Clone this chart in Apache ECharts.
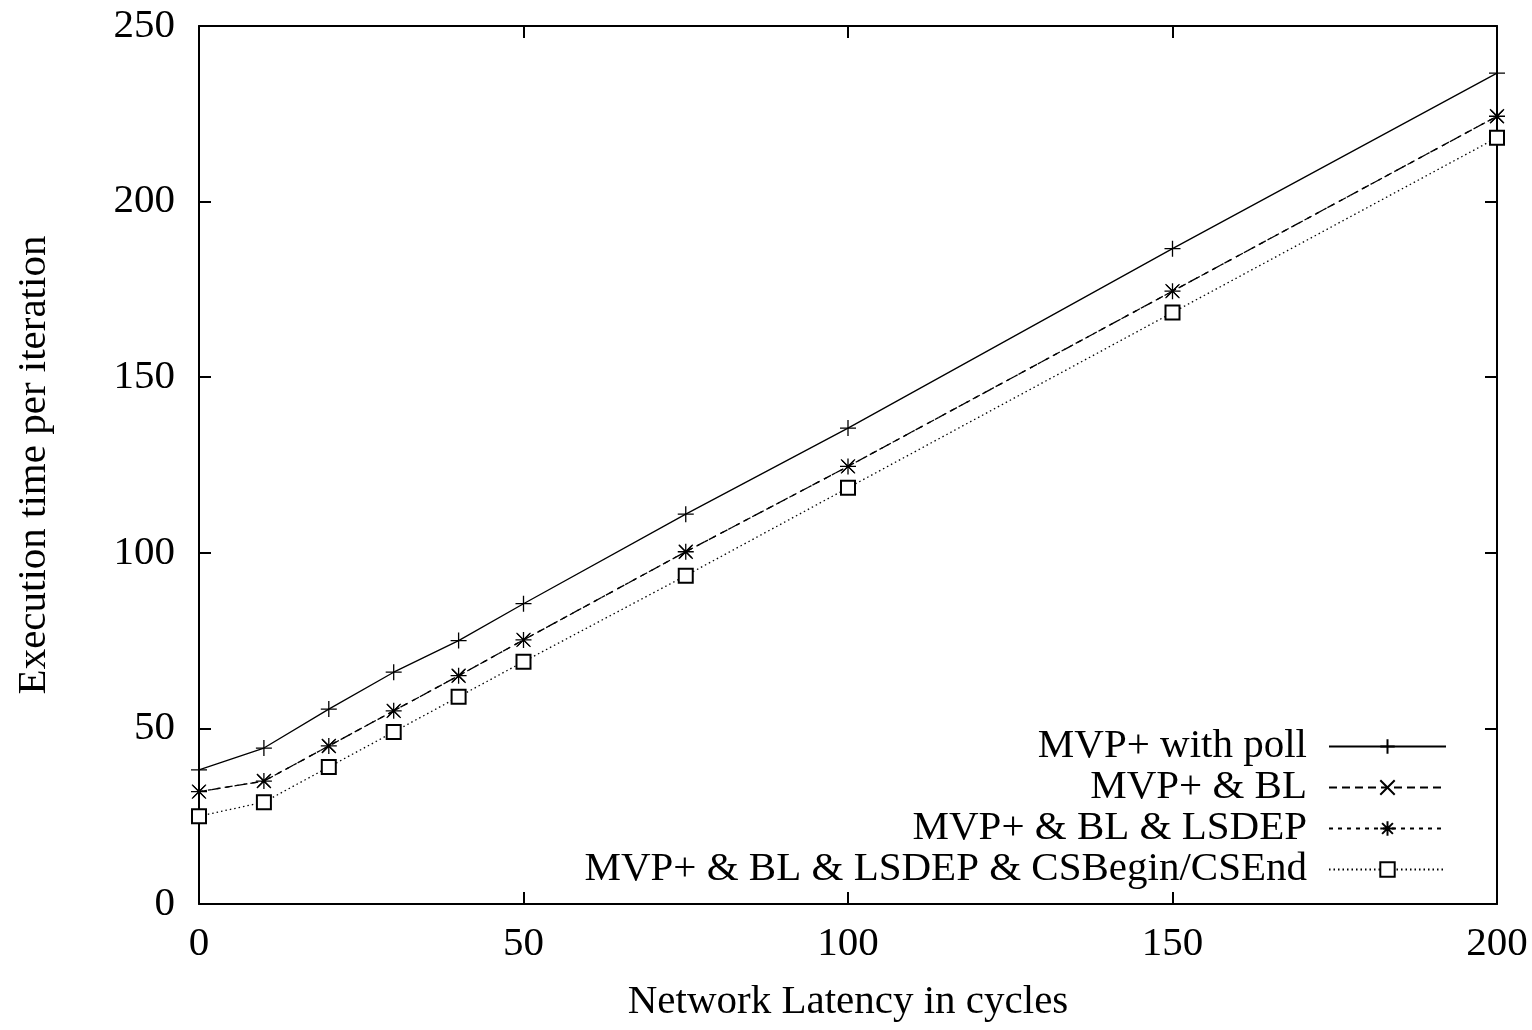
<!DOCTYPE html>
<html>
<head>
<meta charset="utf-8">
<script src="https://cdn.jsdelivr.net/npm/echarts@6/dist/echarts.min.js"></script>
<style>
  html, body { margin: 0; padding: 0; background: #fff; }
  #chart { width: 1532px; height: 1030px; }
</style>
</head>
<body>
<div id="chart"></div>
<script>
// network latency (cycles)
var latency = [0, 10, 20, 30, 40, 50, 75, 100, 150, 200];
// execution time per iteration
var mvpPoll = [38.2, 44.4, 55.5, 66, 75, 85.5, 111, 135.5, 186.6, 236.6];
var mvpBL = [32, 35, 45, 55, 65, 75.2, 100.3, 124.6, 174.5, 224.3];
var mvpBLLsdep = [32, 35, 45, 55, 65, 75.2, 100.3, 124.6, 174.5, 224.3];
var mvpBLLsdepCS = [25, 29, 39, 49, 59, 69, 93.5, 118.5, 168.4, 218.2];
var seriesNames = [
    'MVP+ with poll',
    'MVP+ & BL',
    'MVP+ & BL & LSDEP',
    'MVP+ & BL & LSDEP & CSBegin/CSEnd'
];

var FONT = 'Liberation Serif';
var FS = 41;

function pairs(ys) {
    return latency.map(function (x, i) { return [x, ys[i]]; });
}

function mkSeries(name, ys, symbol, size, dash) {
    return {
        name: name,
        type: 'line',
        data: pairs(ys),
        symbol: symbol,
        symbolSize: size,
        showSymbol: true,
        animation: false,
        lineStyle: { color: '#000', width: 1.3, type: dash },
        itemStyle: { color: '#000', borderColor: '#000', borderWidth: 1.3 },
        emphasis: { disabled: true }
    };
}

var plus = 'path://M0,8L16,8M8,0L8,16';
var cross = 'path://M0,0L16,16M16,0L0,16';
var star = 'path://M0,8L16,8M8,0L8,16M2,2L14,14M14,2L2,14';

var tickStyle = { inside: true, length: 12, lineStyle: { color: '#000', width: 2 } };
var lineStyle = { show: true, onZero: false, lineStyle: { color: '#000', width: 2 } };

var chart = echarts.init(document.getElementById('chart'));
chart.setOption({
    backgroundColor: '#fff',
    animation: false,
    grid: { left: 199, right: 35, top: 26, bottom: 126, outerBoundsMode: 'none' },
    legend: {
        orient: 'vertical',
        align: 'right',
        right: 85,
        top: 726,
        padding: 0,
        itemWidth: 117,
        itemHeight: 18,
        itemGap: 0,
        data: seriesNames,
        selectedMode: false,
        textStyle: { fontFamily: FONT, fontSize: FS, color: '#000', lineHeight: 41, padding: [0, 17, 0, 0] }
    },
    xAxis: [{
        type: 'value', min: 0, max: 200, interval: 50,
        name: 'Network Latency in cycles', nameLocation: 'middle', nameGap: 78,
        nameTextStyle: { fontFamily: FONT, fontSize: FS, color: '#000' },
        axisLine: lineStyle,
        axisTick: tickStyle,
        axisLabel: { fontFamily: FONT, fontSize: FS, color: '#000', margin: 20 },
        splitLine: { show: false }
    }, {
        type: 'value', position: 'top', min: 0, max: 200, interval: 50,
        axisLine: lineStyle,
        axisTick: tickStyle,
        axisLabel: { show: false },
        splitLine: { show: false }
    }],
    yAxis: [{
        type: 'value', min: 0, max: 250, interval: 50,
        name: 'Execution time per iteration', nameLocation: 'middle', nameGap: 144,
        nameTextStyle: { fontFamily: FONT, fontSize: FS, color: '#000' },
        axisLine: lineStyle,
        axisTick: { show: true, inside: true, length: 12, lineStyle: { color: '#000', width: 2 } },
        axisLabel: { fontFamily: FONT, fontSize: FS, color: '#000', margin: 24 },
        splitLine: { show: false }
    }, {
        type: 'value', position: 'right', min: 0, max: 250, interval: 50,
        axisLine: lineStyle,
        axisTick: { show: true, inside: true, length: 12, lineStyle: { color: '#000', width: 2 } },
        axisLabel: { show: false },
        splitLine: { show: false }
    }],
    series: [
        mkSeries(seriesNames[0], mvpPoll, plus, 16, 'solid'),
        mkSeries(seriesNames[1], mvpBL, cross, 14, [8, 5]),
        mkSeries(seriesNames[2], mvpBLLsdep, star, 16, [4, 5]),
        mkSeries(seriesNames[3], mvpBLLsdepCS, 'emptyRect', 14, [1.5, 3])
    ]
});
</script>
</body>
</html>
